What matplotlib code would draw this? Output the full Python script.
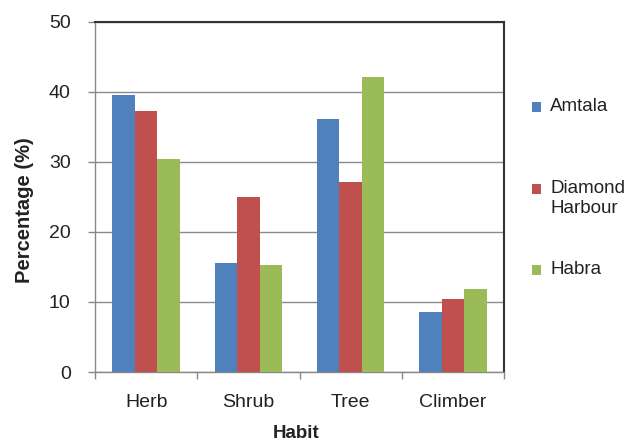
import matplotlib
matplotlib.use("Agg")
import matplotlib.pyplot as plt
import numpy as np
from matplotlib.patches import Rectangle

categories = ["Herb", "Shrub", "Tree", "Climber"]
series_names = ["Amtala", "Diamond\nHarbour", "Habra"]
amtala = [39.6, 15.6, 36.1, 8.6]
diamond_harbour = [37.3, 25.0, 27.1, 10.4]
habra = [30.4, 15.3, 42.2, 11.9]
series_values = [amtala, diamond_harbour, habra]
colors = ["#4F81BD", "#C0504D", "#9BBB59"]
yticks = [0, 10, 20, 30, 40, 50]

plt.rcParams['font.family'] = ['Liberation Sans', 'DejaVu Sans']

W, H = 641, 444
fig = plt.figure(figsize=(W / 100, H / 100), dpi=100)
ax = fig.add_axes([95 / W, 1 - 372 / H, (504 - 95) / W, (372 - 22) / H])

x = np.arange(len(categories))
bw = 0.22
for i, (vals, c) in enumerate(zip(series_values, colors)):
    ax.bar(x + (i - 1) * bw, vals, width=bw, color=c, zorder=3, linewidth=0)

ax.set_xlim(-0.5, len(categories) - 0.5)
ax.set_ylim(0, 50)
ax.set_yticks(yticks)
ax.set_yticklabels([str(v) for v in yticks], fontsize=14, color="#222222")
ax.set_xticks(x)
ax.set_xticklabels(categories, fontsize=14, color="#222222")
ax.set_xticks(np.arange(len(categories) + 1) - 0.5, minor=True)
ax.tick_params(axis='x', which='major', length=0, pad=16)
ax.tick_params(axis='x', which='minor', length=5, color="#888888", width=1)
ax.tick_params(axis='y', length=5, color="#888888", width=1, pad=12.5)

ax.grid(axis='y', color="#8a8a8a", linewidth=1, zorder=0)
for s in ['left', 'bottom']:
    ax.spines[s].set_color("#888888")
    ax.spines[s].set_linewidth(1)
for s in ['top', 'right']:
    ax.spines[s].set_color("#333333")
    ax.spines[s].set_linewidth(1.5)

fig.text(296 / W, 1 - 433 / H, "Habit", ha='center', va='center',
         fontsize=13.5, fontweight='bold', color="#222222")
fig.text(25 / W, 1 - 210 / H, "Percentage (%)", ha='center', va='center',
         rotation=90, fontsize=14.5, fontweight='bold', color="#222222")

# legend
legend_y = [107, 189, 270]
for name, c, yy in zip(series_names, colors, legend_y):
    fig.patches.append(Rectangle((532 / W, 1 - (yy + 5) / H), 9 / W, 10 / H,
                                 transform=fig.transFigure, facecolor=c,
                                 edgecolor='none', figure=fig))
    fig.text(550 / W, 1 - (yy - 9) / H, name, ha='left', va='top',
             fontsize=13.5, color="#222222", linespacing=1.2)

fig.savefig("out.png", dpi=100, facecolor="white")
